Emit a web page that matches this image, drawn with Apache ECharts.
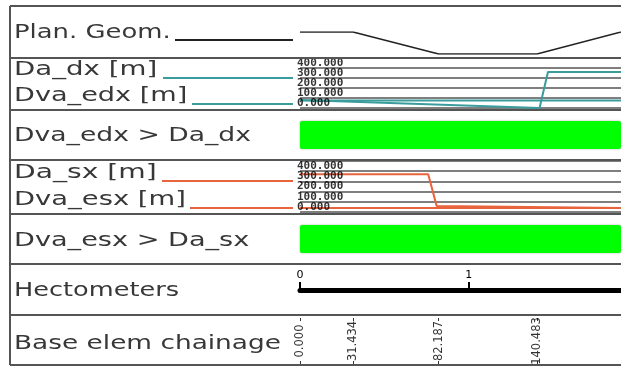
<!DOCTYPE html>
<html><head><meta charset="utf-8">
<script src="https://cdn.jsdelivr.net/npm/echarts@6.0.0/dist/echarts.min.js"></script>
<style>html,body{margin:0;padding:0;background:#fff}#c{width:621px;height:367px}</style>
</head><body><div id="c"></div>
<script>
// ---- data ----
const xMax = 190.3;                         // visible chainage extent [m]
const chainage = [0, 31.434, 82.187, 140.483];
const planGeomX = [0, 31.434, 82.187, 140.483, 190.3];
const planGeomY = [0, 0, -1, -1, 0];
const daDx   = [[0, 80], [142, 0], [147, 360], [190.3, 360]];
const dvaEdx = [[0, 75], [190.3, 75]];
const daSx   = [[0, 370], [76, 370], [81, 60], [190.3, 40]];
const dvaEsx = [[0, 40], [190.3, 40]];
const distTicks = [0, 100, 200, 300, 400];  // labelled distance ticks [m]
const distMax = 500;
const hectoStep = 100;
const checkEdx = [xMax];   // Dva_edx > Da_dx satisfied over the whole range
const checkEsx = [xMax];   // Dva_esx > Da_sx satisfied over the whole range

const TEAL = '#3a9c9c', ORANGE = '#e8643c', GREEN = '#00ff00', GRID = '#555';
const chart = echarts.init(document.getElementById('c'), null, {renderer: 'canvas'});

const L = 300, R = 0;
const grids = [
  {left: L, right: R, top: 32,  height: 22},  // 0 plan geom
  {left: L, right: R, top: 58,  height: 50},  // 1 teal
  {left: L, right: R, top: 110, height: 50},  // 2 green 1
  {left: L, right: R, top: 161, height: 51},  // 3 orange
  {left: L, right: R, top: 214, height: 50},  // 4 green 2
  {left: L, right: R, top: 270, height: 20},  // 5 hectometers
  {left: L, right: R, top: 318, height: 46}   // 6 chainage
];
const hiddenX = i => ({gridIndex: i, type: 'value', min: 0, max: xMax, show: false});
const distY = i => ({
  gridIndex: i, type: 'value', min: 0, max: distMax, interval: 100,
  axisLine: {show: false}, axisTick: {show: false}, axisLabel: {show: false},
  splitLine: {show: true, lineStyle: {color: GRID, width: 1.6}}
});
const distLabels = (xi) => ({
  type: 'scatter', xAxisIndex: xi, yAxisIndex: xi, symbolSize: 0, z: 5, silent: true,
  data: distTicks.map(v => [0, v]),
  label: {show: true, position: 'right', distance: 0, offset: [-3, -5], color: '#000',
    fontFamily: 'DejaVu Sans Mono', fontSize: 11, fontWeight: 'bold',
    formatter: p => p.value[1].toFixed(3)}
});

const frameY = [6, 58, 110, 160, 214, 264, 315, 365];
const graphics = [];
frameY.forEach(y => graphics.push({type: 'line', shape: {x1: 10, y1: y, x2: 621, y2: y},
  style: {stroke: '#555', lineWidth: 2}, z: 10}));
graphics.push({type: 'line', shape: {x1: 10, y1: 6, x2: 10, y2: 365}, style: {stroke: '#555', lineWidth: 2}, z: 10});
const txt = (t, y, s) => ({type: 'text', x: 14, y: y, scaleX: 1.28 * s,
  style: {text: t, x: 0, y: 0, font: '20px "DejaVu Sans"', fill: '#383838', textVerticalAlign: 'middle'}});
graphics.push(txt('Plan. Geom.', 33, 1.01), txt('Da_dx [m]', 70, 1.08), txt('Dva_edx [m]', 96, 1.06),
  txt('Dva_edx > Da_dx', 136, 1.04), txt('Da_sx [m]', 173, 1.1), txt('Dva_esx [m]', 200, 1.07),
  txt('Dva_esx > Da_sx', 241, 1.06), txt('Hectometers', 291, 1.0), txt('Base elem chainage', 344, 1.03));
const seg = (x1, y, col) => ({type: 'line', shape: {x1: x1, y1: y, x2: 293, y2: y}, style: {stroke: col, lineWidth: 2}});
graphics.push(seg(175, 40, '#222'), seg(163, 78, TEAL), seg(192, 104, TEAL), seg(162, 181, ORANGE), seg(190, 208, ORANGE));

const option = {
  animation: false,
  backgroundColor: '#fff',
  grid: grids,
  xAxis: [
    hiddenX(0), hiddenX(1), hiddenX(2), hiddenX(3), hiddenX(4),
    {gridIndex: 5, type: 'value', min: 0, max: xMax, interval: hectoStep, position: 'bottom',
      axisLine: {lineStyle: {color: '#000', width: 5}},
      axisTick: {show: true, inside: true, length: 8, lineStyle: {color: '#000', width: 2}},
      axisLabel: {inside: true, margin: 9, color: '#000', fontSize: 11, fontFamily: 'DejaVu Sans',
        showMaxLabel: false, formatter: v => String(v / hectoStep)},
      splitLine: {show: false}},
    {gridIndex: 6, type: 'value', min: 0, max: xMax, position: 'bottom',
      axisLine: {show: false}, splitLine: {show: false}, axisLabel: {show: false},
      axisTick: {show: true, inside: true, length: 3, customValues: chainage, lineStyle: {color: '#333'}}},
    {gridIndex: 6, type: 'value', min: 0, max: xMax, position: 'top',
      axisLine: {show: false}, splitLine: {show: false}, axisLabel: {show: false},
      axisTick: {show: true, inside: true, length: 3, customValues: chainage, lineStyle: {color: '#333'}}}
  ],
  yAxis: [
    {gridIndex: 0, type: 'value', min: -1, max: 0, show: false},
    distY(1),
    {gridIndex: 2, type: 'category', data: ['Dva_edx > Da_dx'], show: false},
    distY(3),
    {gridIndex: 4, type: 'category', data: ['Dva_esx > Da_sx'], show: false},
    {gridIndex: 5, type: 'value', min: 0, max: 1, show: false},
    {gridIndex: 6, type: 'value', min: 0, max: 1, show: false}
  ],
  series: [
    {type: 'line', xAxisIndex: 0, yAxisIndex: 0, symbol: 'none',
      data: planGeomX.map((x, i) => [x, planGeomY[i]]), lineStyle: {color: '#222', width: 1.5}},
    {name: 'Da_dx', type: 'line', xAxisIndex: 1, yAxisIndex: 1, symbol: 'none', data: daDx,
      lineStyle: {color: TEAL, width: 2}, z: 3},
    {name: 'Dva_edx', type: 'line', xAxisIndex: 1, yAxisIndex: 1, symbol: 'none', data: dvaEdx,
      lineStyle: {color: TEAL, width: 2}, z: 3},
    distLabels(1),
    {type: 'bar', xAxisIndex: 2, yAxisIndex: 2, data: checkEdx, barWidth: 28,
      itemStyle: {color: GREEN, borderRadius: 2, shadowColor: 'rgba(0,0,0,0.35)', shadowBlur: 2}},
    {name: 'Da_sx', type: 'line', xAxisIndex: 3, yAxisIndex: 3, symbol: 'none', data: daSx,
      lineStyle: {color: ORANGE, width: 2}, z: 3},
    {name: 'Dva_esx', type: 'line', xAxisIndex: 3, yAxisIndex: 3, symbol: 'none', data: dvaEsx,
      lineStyle: {color: ORANGE, width: 2}, z: 3},
    distLabels(3),
    {type: 'bar', xAxisIndex: 4, yAxisIndex: 4, data: checkEsx, barWidth: 28,
      itemStyle: {color: GREEN, borderRadius: 2, shadowColor: 'rgba(0,0,0,0.35)', shadowBlur: 2}},
    {type: 'scatter', xAxisIndex: 6, yAxisIndex: 6, symbolSize: 0,
      data: chainage.map(c => [c, 0.5]),
      label: {show: true, position: 'inside', rotate: 90, color: '#000', fontSize: 11.5,
        fontFamily: 'DejaVu Sans', formatter: p => p.value[0].toFixed(3)}}
  ],
  graphic: graphics
};
chart.setOption(option);
</script></body></html>
